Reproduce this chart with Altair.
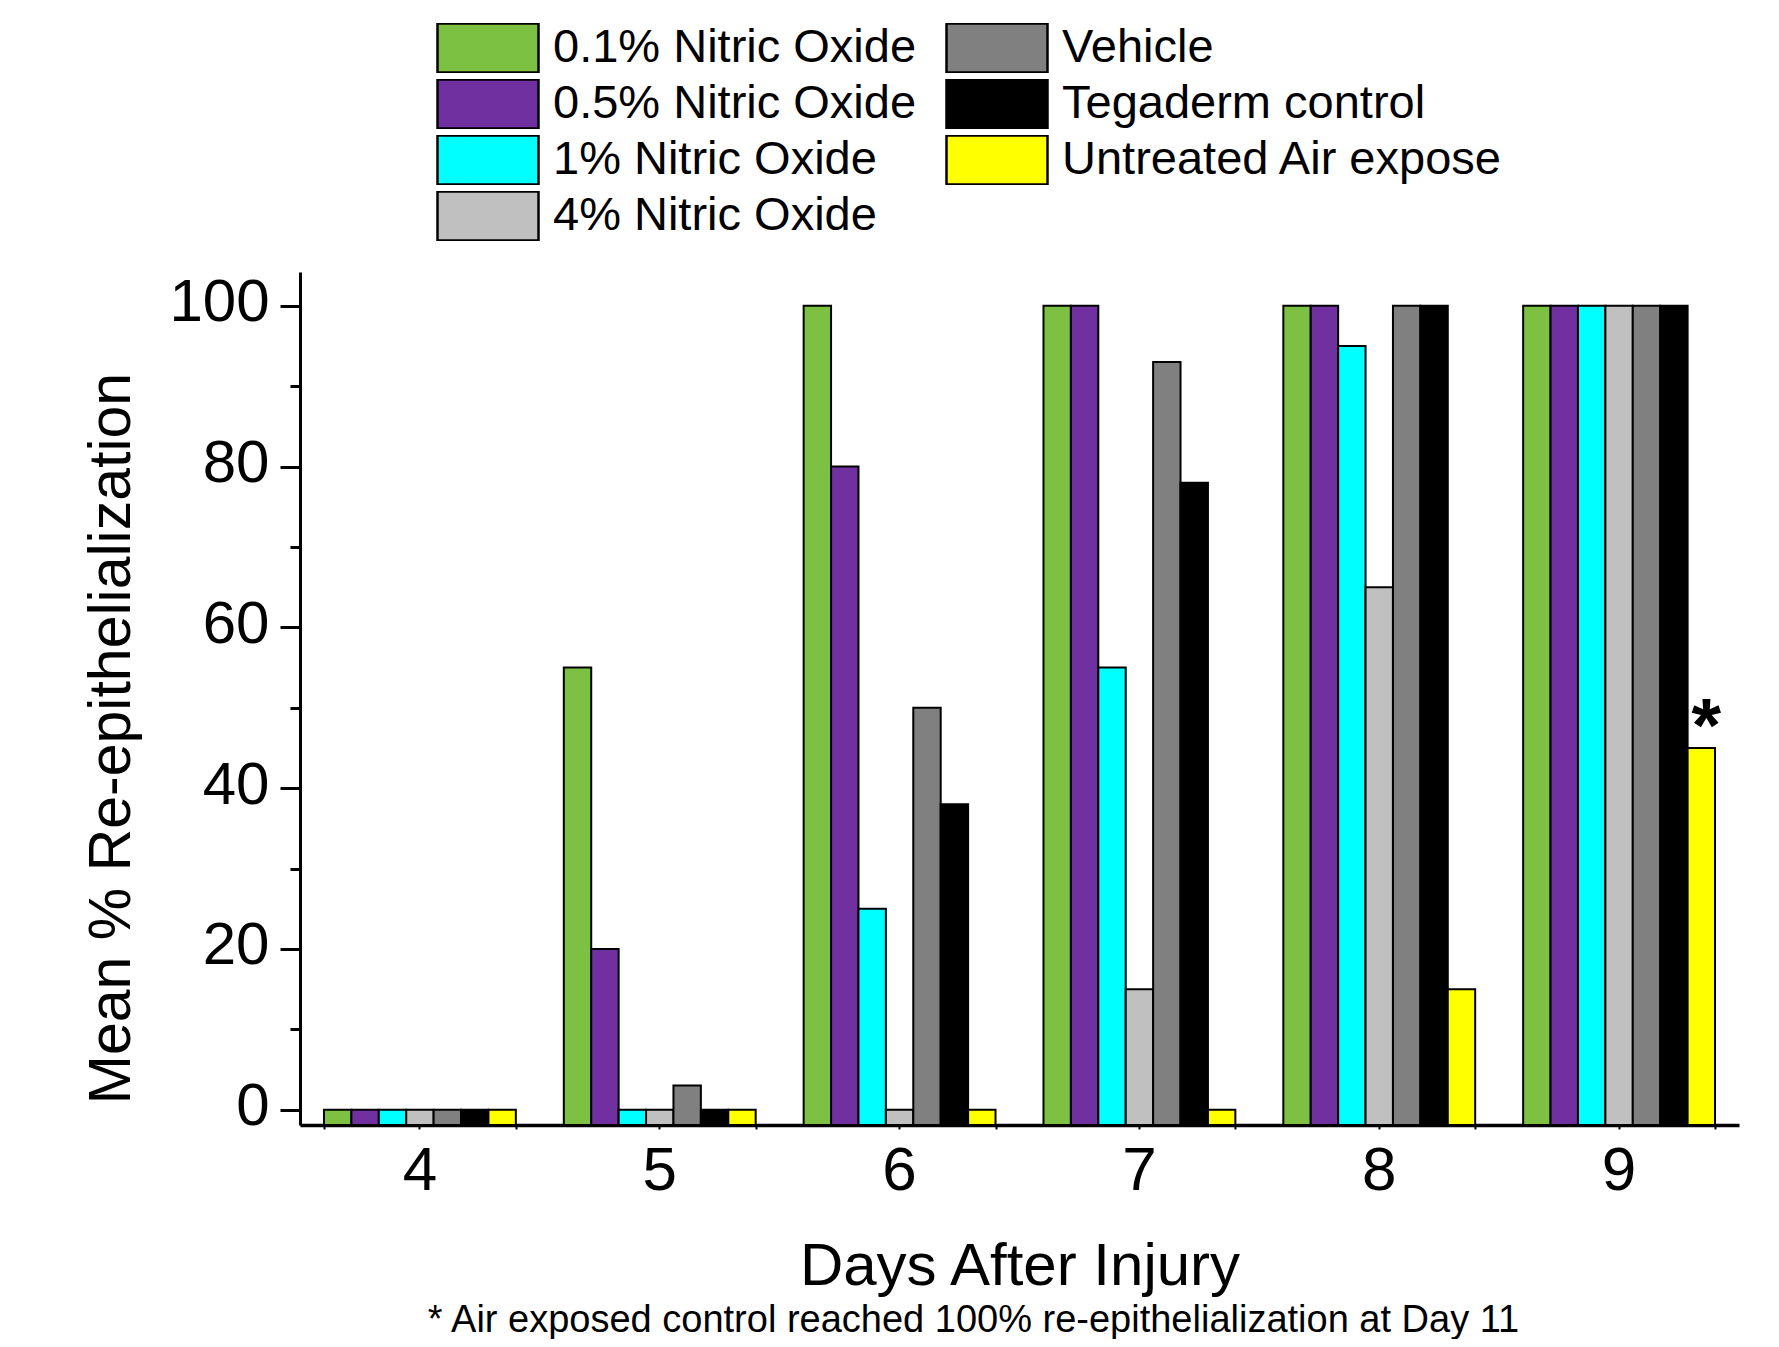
import altair as alt
import pandas as pd

FONT = "Arial, Liberation Sans, sans-serif"

days = ["4", "5", "6", "7", "8", "9"]
groups = ["0.1% Nitric Oxide", "0.5% Nitric Oxide", "1% Nitric Oxide", "4% Nitric Oxide",
          "Vehicle", "Tegaderm control", "Untreated Air expose"]
colors = ["#7CC142", "#7030A0", "#00FFFF", "#C0C0C0", "#808080", "#000000", "#FFFF00"]

no_01 = [0, 55, 100, 100, 100, 100]
no_05 = [0, 20, 80, 100, 100, 100]
no_1 = [0, 0, 25, 55, 95, 100]
no_4 = [0, 0, 0, 15, 65, 100]
vehicle = [0, 3, 50, 93, 100, 100]
tegaderm = [0, 0, 38, 78, 100, 100]
untreated = [0, 0, 0, 0, 15, 45]
series = [no_01, no_05, no_1, no_4, vehicle, tegaderm, untreated]

star_day = ["9"]
star_group = ["Untreated Air expose"]
star_value = [45]
star_label = ["*"]

footnote = "* Air exposed control reached 100% re-epithelialization at Day 11"
y_major = [0, 20, 40, 60, 80, 100]
y_minor = [10, 30, 50, 70, 90]
y_domain = [-1.9, 104.2]

rows = []
for g, vals in zip(groups, series):
    for d, v in zip(days, vals):
        rows.append({"day": d, "group": g, "value": v})
df = pd.DataFrame(rows)
star_df = pd.DataFrame({"day": star_day, "group": star_group, "value": star_value, "label": star_label})

x_scale = alt.Scale(paddingInner=0.2, paddingOuter=0.1)
y_scale = alt.Scale(domain=y_domain, nice=False, zero=False)
off_scale = alt.Scale(paddingInner=0, paddingOuter=0)

bars = alt.Chart(df).mark_bar(stroke="black", strokeWidth=2).encode(
    x=alt.X("day:N", sort=days, scale=x_scale,
            axis=alt.Axis(title="Days After Injury", labelAngle=0, tickSize=4, tickWidth=2,
                          labelPadding=11, labelFontSize=62, titleFontSize=60,
                          titleY=159, titleBaseline="alphabetic", domainWidth=3.5)),
    xOffset=alt.XOffset("group:N", sort=groups, scale=off_scale),
    y=alt.Y("value:Q", scale=y_scale,
            axis=alt.Axis(title="Mean % Re-epithelialization", values=y_major, tickSize=20,
                          tickWidth=3, labelPadding=11, labelFontSize=60, titleFontSize=59,
                          titleAngle=270, titleX=-171, titleY=466, titleBaseline="alphabetic",
                          titleAlign="center", domainWidth=3, labelOffset=-3)),
    y2=alt.datum(y_domain[0]),
    color=alt.Color("group:N", scale=alt.Scale(domain=groups, range=colors),
                    legend=alt.Legend(title=None, orient="none", legendX=136, legendY=-249,
                                      columns=2, gridAlign="each", clipHeight=50,
                                      symbolType="M-1,-0.485L1,-0.485L1,0.485L-1,0.485Z",
                                      symbolSize=10201, symbolStrokeColor="black",
                                      symbolStrokeWidth=2.5, symbolOpacity=1,
                                      labelFont=FONT, labelFontSize=47, labelColor="black",
                                      labelOffset=13, labelLimit=800, rowPadding=6,
                                      columnPadding=28, padding=0)),
)

star = alt.Chart(star_df).mark_text(fontSize=76, fontWeight="bold", baseline="alphabetic",
                                    dx=5, dy=3, color="black", font=FONT).encode(
    x=alt.X("day:N", sort=days, scale=x_scale,
            axis=alt.Axis(title=None, labels=False, domain=False, tickBand="extent",
                          tickSize=4, tickWidth=2, orient="bottom")),
    xOffset=alt.XOffset("group:N", sort=groups, scale=off_scale),
    y=alt.Y("value:Q", scale=y_scale,
            axis=alt.Axis(title=None, labels=False, domain=False, values=y_minor,
                          tickSize=10, tickWidth=3, orient="left")),
    text="label:N",
)

chart = alt.layer(bars, star).resolve_axis(x="independent", y="independent").properties(
    width=1439, height=853,
    padding={"left": 292, "top": 264, "right": 24, "bottom": 214},
    autosize=alt.AutoSizeParams(type="none"),
    title=alt.TitleParams(text=footnote, orient="bottom", anchor="middle", font=FONT,
                          fontSize=38, fontWeight="normal", color="black", offset=6, dx=-46),
    background="white",
).configure_axis(
    labelFont=FONT, titleFont=FONT, labelColor="black", titleColor="black",
    tickColor="black", domainColor="black", titleFontWeight="normal", grid=False,
).configure_view(strokeOpacity=0)

chart.save("out.html", embed_options={"renderer": "svg", "actions": False})
